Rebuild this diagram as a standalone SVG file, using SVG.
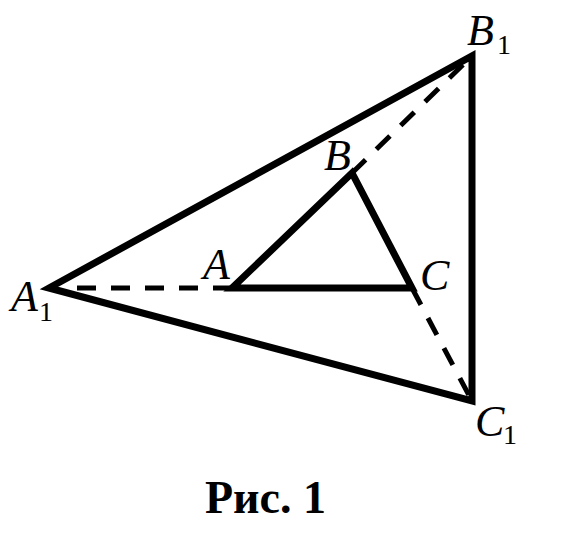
<svg xmlns="http://www.w3.org/2000/svg" width="585" height="539" viewBox="0 0 585 539">
<style>
.s{fill:none;stroke:#000;stroke-width:7;stroke-linejoin:miter;stroke-linecap:butt}
.d{fill:none;stroke:#000;stroke-width:5;stroke-dasharray:19 15}
.l{font-family:"Liberation Serif",serif;font-style:italic;font-size:44px;fill:#000}
.sub{font-family:"Liberation Serif",serif;font-size:28px;fill:#000}
.cap{font-family:"Liberation Serif",serif;font-weight:bold;font-size:46px;fill:#000}
</style>
<rect width="585" height="539" fill="#fff"/>
<g id="connectors">
<line class="d" x1="77" y1="288" x2="232" y2="288"/>
<line class="d" x1="352" y1="173" x2="472" y2="56"/>
<line class="d" x1="412" y1="288" x2="472" y2="401"/>
</g>
<g id="outer-triangle">
<polygon class="s" points="49,288 472,56 472,401"/>
</g>
<g id="inner-triangle">
<polygon class="s" points="232,288 352,173 412,288"/>
</g>
<g id="label-A1"><text class="l" x="11" y="311">A</text><text class="sub" x="39" y="321">1</text></g>
<g id="label-A"><text class="l" x="203" y="279">A</text></g>
<g id="label-B"><text class="l" x="324" y="170">B</text></g>
<g id="label-C"><text class="l" x="420" y="290">C</text></g>
<g id="label-B1"><text class="l" x="467" y="45">B</text><text class="sub" x="497" y="54">1</text></g>
<g id="label-C1"><text class="l" x="475" y="436">C</text><text class="sub" x="503" y="444">1</text></g>
<g id="caption"><text class="cap" x="205" y="513">Рис. 1</text></g>
</svg>
